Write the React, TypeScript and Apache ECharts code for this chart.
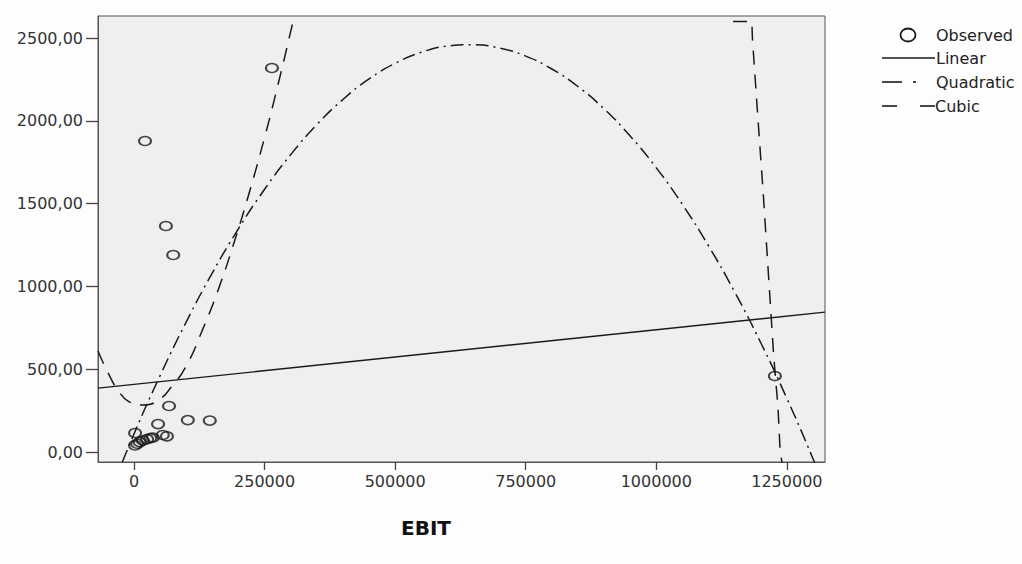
import React, { useEffect, useRef } from "react";
import * as echarts from "echarts";

const xTicks = [0, 250000, 500000, 750000, 1000000, 1250000];
const yTicks = [0, 500, 1000, 1500, 2000, 2500];

const observed: number[][] = [
  [2000, 115], [2000, 40], [6000, 50], [11000, 60], [17000, 70], [25000, 78],
  [31000, 84], [36000, 88], [46000, 169], [55000, 103], [63000, 95],
  [67000, 278], [103000, 193], [145000, 190], [21000, 1878], [61000, 1365],
  [75000, 1190], [264000, 2319], [1227000, 459],
];

const linearFit: number[][] = [[-69000, 386], [1323000, 845]];

const quadraticFit: number[][] = [
  [-40000, -200], [0, 110], [50000, 462], [100000, 786], [150000, 1082],
  [200000, 1349], [250000, 1587], [300000, 1796], [350000, 1977], [400000, 2129],
  [450000, 2253], [500000, 2347], [550000, 2414], [600000, 2451], [650000, 2459],
  [700000, 2439], [750000, 2391], [800000, 2313], [850000, 2207], [900000, 2072],
  [950000, 1908], [1000000, 1716], [1050000, 1495], [1100000, 1245],
  [1150000, 967], [1200000, 660], [1250000, 324], [1300000, -40], [1340000, -350],
];

const cubicFitLeft: number[][] = [
  [-69000, 610], [-50000, 480], [-30000, 370], [-10000, 305], [17000, 284],
  [45000, 310], [72000, 395], [100000, 520], [130000, 730], [160000, 970],
  [190000, 1250], [220000, 1560], [250000, 1900], [275000, 2210],
  [300000, 2540], [325000, 2880],
];

const cubicFitRight: number[][] = [
  [1147000, 2600], [1183000, 2600], [1184000, 2500], [1192000, 2130],
  [1205000, 1550], [1217000, 960], [1225000, 570], [1233000, 270],
  [1237000, 10], [1245000, -150],
];

const FONT = "DejaVu Sans";
const INK = "#1a1a1a";

export default function App() {
  const ref = useRef<HTMLDivElement>(null);
  useEffect(() => {
    const chart = echarts.init(ref.current!, null, { renderer: "svg" });
    const lineBase = { type: "line", showSymbol: false, symbol: "none", silent: true };
    chart.setOption({
      animation: false,
      backgroundColor: "#fdfdfd",
      grid: {
        left: 98, right: 197, top: 16, bottom: 102,
        show: true, backgroundColor: "#efefef", borderColor: "#555", borderWidth: 1,
      },
      xAxis: {
        type: "value", min: -69000, max: 1323000,
        splitLine: { show: false },
        axisLine: { show: true, onZero: false, lineStyle: { color: "#555" } },
        axisTick: { show: true, length: 8, customValues: xTicks, lineStyle: { color: "#444", width: 1.3 } },
        axisLabel: {
          customValues: xTicks, formatter: (v: number) => String(v),
          fontFamily: FONT, fontSize: 16, color: "#333", margin: 11,
        },
      },
      yAxis: {
        type: "value", min: -60, max: 2633,
        splitLine: { show: false },
        axisLine: { show: true, onZero: false, lineStyle: { color: "#555" } },
        axisTick: { show: true, length: 12, customValues: yTicks, lineStyle: { color: "#444", width: 1.3 } },
        axisLabel: {
          customValues: yTicks, formatter: (v: number) => v.toFixed(2).replace(".", ","),
          fontFamily: FONT, fontSize: 16, color: "#333", margin: 15,
        },
      },
      graphic: [
        { type: "text", left: 401, top: 518, style: { text: "EBIT", font: `bold 20px '${FONT}'`, fill: "#111" } },
        { type: "ellipse", shape: { cx: 908, cy: 35, rx: 7.5, ry: 6.5 }, style: { fill: "none", stroke: INK, lineWidth: 1.8 } },
        { type: "text", x: 936, y: 35, style: { text: "Observed", font: `16px '${FONT}'`, fill: "#222", verticalAlign: "middle" } },
        { type: "line", shape: { x1: 882, y1: 58, x2: 935, y2: 58 }, style: { stroke: INK, lineWidth: 1.4 } },
        { type: "text", x: 936, y: 58, style: { text: "Linear", font: `16px '${FONT}'`, fill: "#222", verticalAlign: "middle" } },
        { type: "line", shape: { x1: 882, y1: 82, x2: 902, y2: 82 }, style: { stroke: INK, lineWidth: 1.6 } },
        { type: "line", shape: { x1: 913, y1: 82, x2: 916, y2: 82 }, style: { stroke: INK, lineWidth: 1.6 } },
        { type: "text", x: 936, y: 82, style: { text: "Quadratic", font: `16px '${FONT}'`, fill: "#222", verticalAlign: "middle" } },
        { type: "line", shape: { x1: 882, y1: 106, x2: 897, y2: 106 }, style: { stroke: INK, lineWidth: 1.6 } },
        { type: "line", shape: { x1: 920, y1: 106, x2: 935, y2: 106 }, style: { stroke: INK, lineWidth: 1.6 } },
        { type: "text", x: 935, y: 106, style: { text: "Cubic", font: `16px '${FONT}'`, fill: "#222", verticalAlign: "middle" } },
      ],
      series: [
        { ...lineBase, name: "Linear", data: linearFit, lineStyle: { color: INK, width: 1.4 } },
        { ...lineBase, name: "Quadratic", data: quadraticFit, smooth: true, lineStyle: { color: INK, width: 1.5, type: [13, 5, 2, 5] } },
        { ...lineBase, name: "Cubic", data: cubicFitLeft, smooth: true, lineStyle: { color: INK, width: 1.5, type: [14, 10] } },
        { ...lineBase, name: "Cubic", data: cubicFitRight, lineStyle: { color: INK, width: 1.5, type: [14, 10] } },
        {
          type: "scatter", name: "Observed", data: observed, symbol: "circle", symbolSize: [12, 9], z: 5,
          itemStyle: { color: "rgba(255,255,255,0)", borderColor: INK, borderWidth: 1.8 },
        },
      ],
    });
    return () => chart.dispose();
  }, []);
  return <div ref={ref} style={{ position: "fixed", left: 0, top: 0, width: 1022, height: 564 }} />;
}
